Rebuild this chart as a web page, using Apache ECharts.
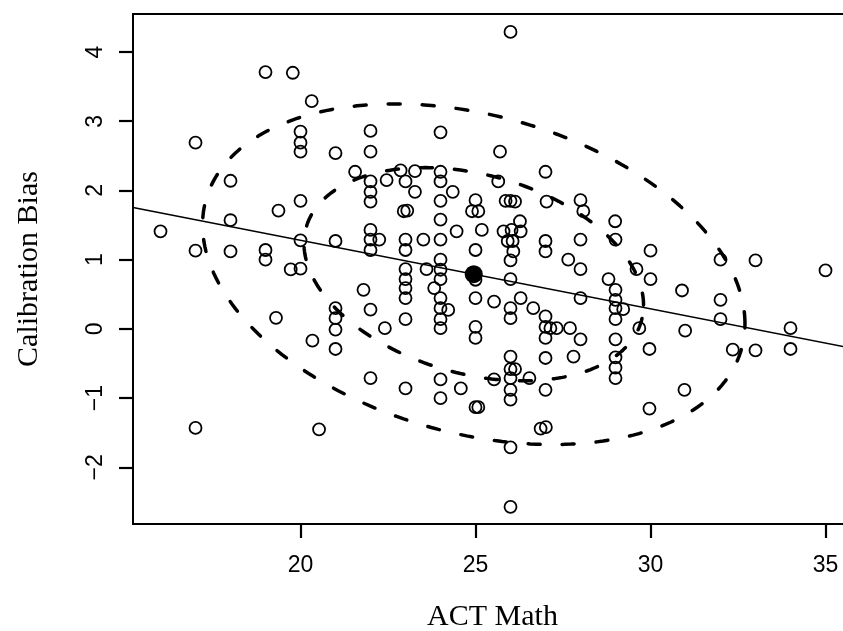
<!DOCTYPE html>
<html><head><meta charset="utf-8">
<script src="https://cdn.jsdelivr.net/npm/echarts@6/dist/echarts.min.js"></script>
<style>html,body{margin:0;padding:0;background:#fff}#c{width:843px;height:631px}</style>
</head><body><div id="c"></div>
<script>
// Tick labels
const xTicks = [20, 25, 30, 35];
const yTicks = [-2, -1, 0, 1, 2, 3, 4];

const actMath = [
16,17,17,17,18,18,18,19,19,19,19.37,19.30,19.72,19.78,
20,20,20,20,20,20,20.32,20.34,20.53,
21,21,21,21,21,21,21.56,21.80,
22,22,22,22,22,22,22,22,22,22,22.25,22.41,22.46,22.86,
23,22.95,23.05,23,23,23,23,23,23,23,23,23.27,23.27,23.51,23.60,23.82,
24,24,24,24,24,24,24,24,24,24,24,24,24,24,24,24.35,24.46,24.22,24.58,
25,24.90,25.08,25,25,25,25,25,25,25.08,25.18,25.53,25.53,25.65,25.70,25.80,
26,25.86,26,26.13,26.03,25.92,26.06,26.08,26,26,26,26,26,26,26.13,26,26,26,26,26,26.27,26.29,26.29,26.54,26.65,
27,27.03,27,27,27,27,27.14,27.32,27,27,27,26.86,27.01,27.65,27.70,27.80,
28,28.08,28,28,28,28,28.80,
28.99,29,29,29,29,29.22,29,29,29,29,29,29.60,29.68,
30,30,29.97,29.97,30.90,30.99,30.97,
32,32,32,32.35,33,33,34,34,35
];
const calibrationBias = [
1.41,2.69,1.13,-1.43,2.14,1.57,1.12,3.71,1.14,1.00,1.71,0.16,0.86,3.70,
2.85,2.69,2.56,1.85,1.28,0.87,3.29,-0.17,-1.45,
2.54,1.27,0.30,0.155,-0.01,-0.29,2.27,0.565,
2.86,2.56,2.13,1.98,1.84,1.43,1.29,1.14,0.28,-0.71,1.29,0.01,2.15,2.29,
2.13,1.70,1.71,1.29,1.14,0.865,0.72,0.59,0.445,0.14,-0.86,2.28,1.98,1.29,0.865,0.59,
2.84,2.27,2.13,1.85,1.58,1.29,1.00,0.855,0.72,0.445,0.30,0.14,0.01,-0.73,-1.00,1.98,1.41,0.275,-0.86,
1.86,1.70,1.70,1.14,0.71,0.445,0.03,-0.13,-1.13,-1.13,1.43,0.395,-0.73,2.13,2.56,1.41,
4.29,1.85,1.85,1.84,1.43,1.27,1.27,1.12,0.99,0.72,0.30,0.155,-0.40,-0.58,-0.58,-0.71,-0.88,-1.02,-1.71,-2.57,1.555,1.41,0.445,-0.71,0.30,
2.27,1.84,1.27,1.12,0.18,0.03,0.01,0.01,-0.13,-0.42,-0.88,-1.44,-1.42,1.00,0.01,-0.40,
1.86,1.70,1.29,0.865,0.445,-0.15,0.72,
1.555,1.29,0.565,0.42,0.30,0.285,0.14,-0.15,-0.41,-0.56,-0.71,0.865,0.01,
1.13,0.72,-0.29,-1.15,0.555,-0.025,-0.88,
1.00,0.42,0.14,-0.30,0.99,-0.31,0.01,-0.29,0.845
];

// Bivariate mean (filled point)
const meanPoint = [24.95, 0.79];

// Regression line: slope and value at x = 25
const regSlope = -0.099;
const regAtX25 = 0.785;

// Data ellipses: centre, standard deviations, correlation, radii
const ellipseCenter = [24.95, 0.79];
const ellipseSd = [3.15, 1.0];
const ellipseRho = -0.29;
const ellipseRadii = [1.54, 2.46];

// Axis ranges
const xMin = 15.214, xMax = 35.757;
const yMin = -2.818, yMax = 4.549;

const points = actMath.map((x, i) => [x, calibrationBias[i]]);

function ellipse(r) {
  const pts = [];
  const n = 240;
  const s = Math.sqrt(1 - ellipseRho * ellipseRho);
  for (let k = 0; k <= n; k++) {
    const t = 2 * Math.PI * k / n;
    const c = Math.cos(t), sn = Math.sin(t);
    pts.push([
      ellipseCenter[0] + r * ellipseSd[0] * c,
      ellipseCenter[1] + r * ellipseSd[1] * (ellipseRho * c + s * sn)
    ]);
  }
  return pts;
}
const regLine = [xMin, xMax].map(x => [x, regAtX25 + regSlope * (x - 25)]);

const chart = echarts.init(document.getElementById('c'), null, {renderer: 'canvas'});
const dashStyle = {color: '#000', width: 3.5, type: [12, 22], cap: 'round'};
chart.setOption({
  animation: false,
  grid: {left: 133, top: 14, width: 719, height: 510, show: true,
         outerBoundsMode: 'none', containLabel: false,
         borderColor: '#000', borderWidth: 2},
  xAxis: {
    type: 'value', min: xMin, max: xMax, position: 'bottom',
    axisLine: {show: true, onZero: false, lineStyle: {color: '#000', width: 2}},
    splitLine: {show: false},
    axisTick: {show: true, customValues: xTicks, length: 14, inside: false,
               lineStyle: {color: '#000', width: 2.2}},
    axisLabel: {customValues: xTicks, fontSize: 23, color: '#000',
                fontFamily: 'Liberation Sans', margin: 30},
    name: 'ACT Math', nameLocation: 'middle', nameGap: 78,
    nameTextStyle: {fontSize: 30, fontFamily: 'Liberation Serif', color: '#000'}
  },
  yAxis: {
    type: 'value', min: yMin, max: yMax, position: 'left',
    axisLine: {show: true, onZero: false, lineStyle: {color: '#000', width: 2}},
    splitLine: {show: false},
    axisTick: {show: true, customValues: yTicks, length: 14, inside: false,
               lineStyle: {color: '#000', width: 2.2}},
    axisLabel: {customValues: yTicks, fontSize: 23, color: '#000', rotate: 90,
                fontFamily: 'Liberation Sans', margin: 26,
                formatter: v => String(v).replace('-', '\u2212')},
    name: 'Calibration Bias', nameLocation: 'middle', nameGap: 89, nameRotate: 90,
    nameTextStyle: {fontSize: 30, fontFamily: 'Liberation Serif', color: '#000'}
  },
  series: [
    {type: 'scatter', data: points, symbol: 'circle', symbolSize: 12, silent: true,
     itemStyle: {color: 'rgba(0,0,0,0)', borderColor: '#000', borderWidth: 1.8, opacity: 1}, z: 2},
    {type: 'scatter', data: [meanPoint], symbol: 'circle', symbolSize: 18, silent: true,
     itemStyle: {color: '#000', opacity: 1}, z: 3},
    {type: 'line', data: regLine, symbol: 'none', silent: true,
     lineStyle: {color: '#000', width: 1.5}, z: 4},
    {type: 'line', data: ellipse(ellipseRadii[0]), symbol: 'none', silent: true,
     lineStyle: dashStyle, z: 4},
    {type: 'line', data: ellipse(ellipseRadii[1]), symbol: 'none', silent: true,
     lineStyle: dashStyle, z: 4}
  ]
});
</script></body></html>
